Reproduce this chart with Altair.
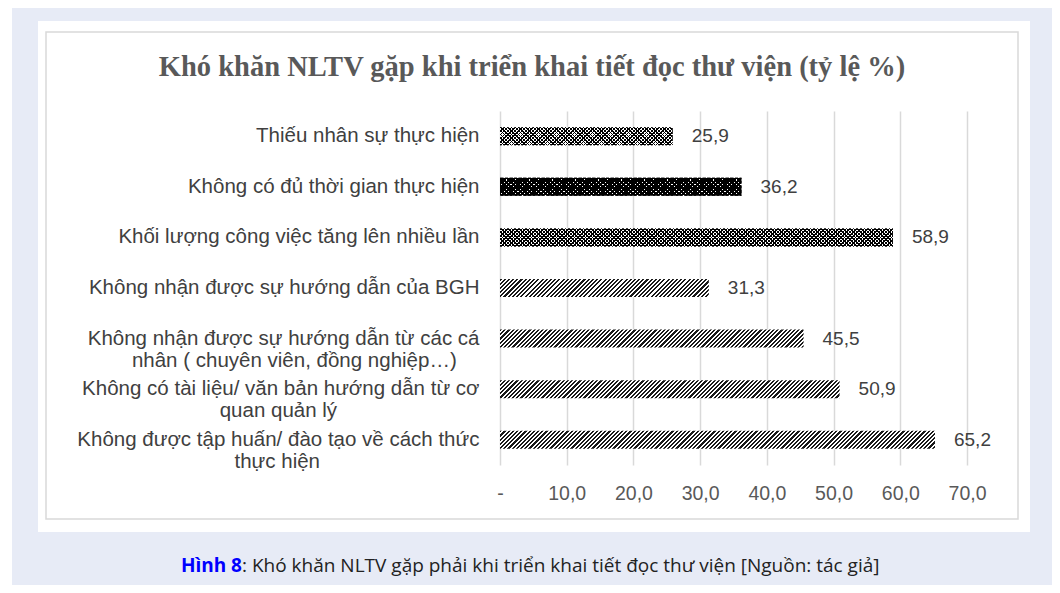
import json
import altair as alt
import pandas as pd

# ---------------- data ----------------
categories = [
    "Thiếu nhân sự thực hiện",
    "Không có đủ thời gian thực hiện",
    "Khối lượng công việc tăng lên nhiều lần",
    "Không nhận được sự hướng dẫn của BGH",
    "Không nhận được sự hướng dẫn từ các cá\nnhân ( chuyên viên, đồng nghiệp…)",
    "Không có tài liệu/ văn bản hướng dẫn từ cơ\nquan quản lý",
    "Không được tập huấn/ đào tạo về cách thức\nthực hiện",
]
values = [25.9, 36.2, 58.9, 31.3, 45.5, 50.9, 65.2]
x_ticks = [0, 10, 20, 30, 40, 50, 60, 70]
title_text = "Khó khăn NLTV gặp khi triển khai tiết đọc thư viện (tỷ lệ %)"
caption_bold = "Hình 8"
caption_rest = ": Khó khăn NLTV gặp phải khi triển khai tiết đọc thư viện [Nguồn: tác giả]"

df = pd.DataFrame({"category": categories, "value": values, "idx": list(range(len(categories)))})

# ---------------- style ----------------
W_PLOT, H_PLOT = 467, 354
X_MAX = 70
BAR_H = 18
LAVENDER = "#e7ebf6"
GRID = "#d9d9d9"
TXT = "#404040"
AX = "#595959"
FONT = "Liberation Sans"
NBSP = "\u00a0"
ZWSP = "\u200b"  # keeps trailing no-break spaces from being trimmed
# padding (in no-break spaces) that centres the 2nd line of wrapped labels
label_pad = [0, 0, 0, 0, 4, 25, 28]
# pattern for each bar: (kind, period, duty)
patterns = [
    ("dots", 3.6, 0.38),
    ("dots", 4.6, 0.72),
    ("dots", 3.6, 0.45),
    ("hatch", 4.2, 0.5),
    ("hatch", 4.2, 0.5),
    ("hatch", 4.2, 0.5),
    ("hatch", 4.2, 0.5),
]


def px(v):
    return v * W_PLOT / X_MAX


def stripe_gradient(w, h, period, duty, ink, gap, direction):
    k = (w + h) / w
    L = (w + h) * (1 + (h / w) ** 2)
    if direction == "up":
        x1, y1, x2, y2 = 0, 0, k, k * h / w
    else:
        x1, y1, x2, y2 = 0, 1, k, 1 - k * h / w
    stops = []
    pos = 0.0
    while pos < L:
        a = round(pos / L, 5)
        b = round(min((pos + duty * period) / L, 1), 5)
        c = round(min((pos + period) / L, 1), 5)
        stops += [
            {"offset": a, "color": ink},
            {"offset": b, "color": ink},
            {"offset": b, "color": gap},
            {"offset": c, "color": gap},
        ]
        pos += period
    return {"gradient": "linear", "x1": x1, "y1": y1, "x2": x2, "y2": y2, "stops": stops}


# y-axis label expression (multi-line, second line centred)
lab_expr = "datum.label"
for cat, n in reversed(list(zip(categories, label_pad))):
    if "\n" in cat:
        l1, l2 = cat.split("\n")
        lines = [l1, l2 + NBSP * n + ZWSP]
        lab_expr = f"datum.label === {json.dumps(cat, ensure_ascii=False)} ? {json.dumps(lines, ensure_ascii=False)} : ({lab_expr})"

x_enc = alt.X(
    "value:Q",
    scale=alt.Scale(domain=[0, X_MAX], nice=False, zero=True),
    axis=alt.Axis(
        values=x_ticks,
        title=None,
        grid=True,
        gridColor=GRID,
        gridWidth=1.5,
        domain=False,
        ticks=False,
        labelFlush=False,
        labelExpr="datum.value === 0 ? '-' : replace(format(datum.value, '.1f'), '.', ',')",
        labelFont=FONT,
        labelFontSize=19.5,
        labelColor=AX,
        labelBaseline="alphabetic",
        labelPadding=34,
    ),
)
y_enc = alt.Y(
    "category:N",
    sort=categories,
    scale=alt.Scale(domain=categories, paddingInner=0, paddingOuter=0),
    axis=alt.Axis(
        title=None,
        grid=False,
        domain=False,
        ticks=False,
        labelExpr=lab_expr,
        labelFont=FONT,
        labelFontSize=20.5,
        labelColor=TXT,
        labelPadding=21,
        labelLimit=600,
        labelLineHeight=22,
    ),
)

base = alt.Chart(df)
one = alt.Data(values=[{}])


def rect(x, x2, y, y2, fill, stroke=None, sw=0, fill_opacity=1):
    kw = dict(fill=fill, fillOpacity=fill_opacity)
    if stroke:
        kw.update(stroke=stroke, strokeWidth=sw)
    return alt.Chart(one).mark_rect(**kw).encode(
        x=alt.value(x), x2=alt.value(x2), y=alt.value(y), y2=alt.value(y2)
    )


# lavender frame around the white panel, and the panel's inner border
layers = [
    rect(-488, 552, -103, -90, LAVENDER),
    rect(-488, 552, 421, 474, LAVENDER),
    rect(-488, -462, -90, 421, LAVENDER),
    rect(530, 552, -90, 421, LAVENDER),
    rect(-454, 518, -79, 408, "white", GRID, 1.5, 0),
]

for i, (v, pat) in enumerate(zip(values, patterns)):
    w = px(v)
    kind, period, duty = pat
    sel = base.transform_filter(alt.datum.idx == i)
    if kind == "hatch":
        g = stripe_gradient(w, BAR_H, period, duty, "#1a1a1a", "#ffffff", "up")
        layers.append(sel.mark_bar(size=BAR_H, fill=g).encode(x=x_enc, y=y_enc))
    else:
        layers.append(sel.mark_bar(size=BAR_H, fill="#ffffff").encode(x=x_enc, y=y_enc))
        for d in ("up", "down"):
            g = stripe_gradient(w, BAR_H, period, duty, "#000000", "rgba(0,0,0,0)", d)
            layers.append(sel.mark_bar(size=BAR_H, fill=g).encode(x=x_enc, y=y_enc))

labels = base.transform_calculate(
    lbl="replace(format(datum.value, '.1f'), '.', ',')"
).mark_text(align="left", baseline="middle", dx=19, fontSize=19, color=TXT, font=FONT).encode(
    x=x_enc, y=y_enc, text="lbl:N"
)
layers.append(labels)

title = alt.Chart(one).mark_text(
    text=title_text, font="Liberation Serif", fontWeight="bold", fontSize=28.5,
    color=AX, align="center", baseline="alphabetic",
).encode(x=alt.value(32), y=alt.value(-35))
cap1 = alt.Chart(one).mark_text(
    text=caption_bold, font="Open Sans", fontWeight="bold", fontSize=19,
    color="#0000ff", align="right", baseline="alphabetic",
).encode(x=alt.value(-258), y=alt.value(461))
cap2 = alt.Chart(one).mark_text(
    text=caption_rest, font="Open Sans", fontSize=19,
    color="#222222", align="left", baseline="alphabetic",
).encode(x=alt.value(-258), y=alt.value(461))
layers += [title, cap1, cap2]

chart = alt.layer(*layers).properties(
    width=W_PLOT,
    height=H_PLOT,
    padding={"left": 492, "top": 103, "right": 85, "bottom": 120},
    autosize=alt.AutoSizeParams(type="none"),
    background="white",
).configure_view(stroke=None)

chart.save("out.html", embed_options={"renderer": "svg", "actions": False})
